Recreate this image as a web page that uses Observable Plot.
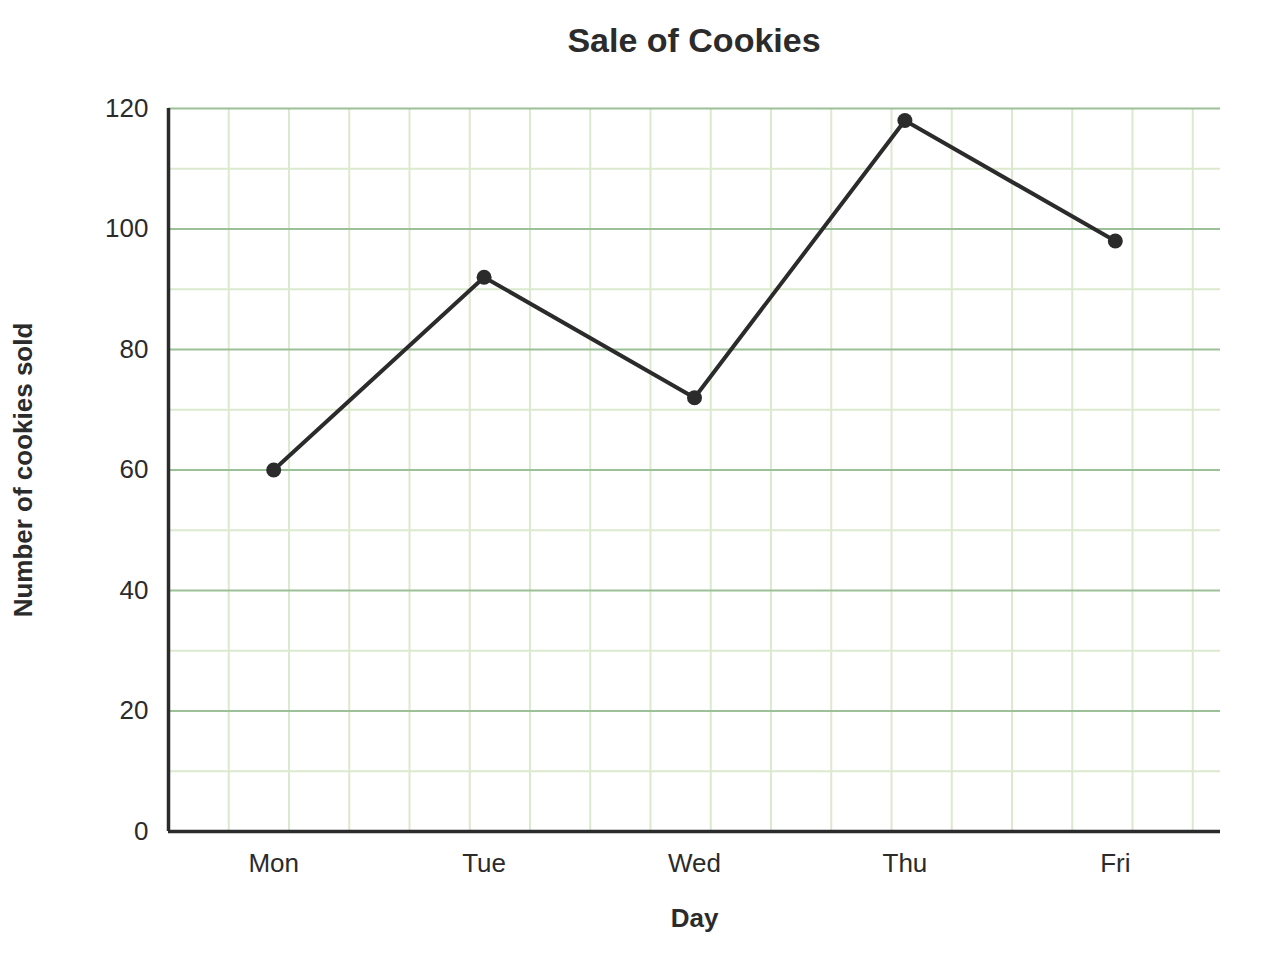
<!DOCTYPE html>
<html>
<head>
<meta charset="utf-8">
<script src="https://cdn.jsdelivr.net/npm/d3@7"></script>
<script src="https://cdn.jsdelivr.net/npm/@observablehq/plot@0.6"></script>
<style>
  html, body { margin: 0; padding: 0; background: #fff; }
  #title {
    width: 1280px; height: 80px; line-height: 80px; box-sizing: border-box;
    padding-left: 108px; text-align: center;
    font-family: "Liberation Sans", Arial, sans-serif; font-weight: bold;
    font-size: 34px; color: #2b2b2b;
  }
</style>
</head>
<body>
<div id="title">Sale of Cookies</div>
<div id="chart"></div>
<script>
const days = ["Mon", "Tue", "Wed", "Thu", "Fri"];
const cookies = [60, 92, 72, 118, 98];
const yMajorTicks = [0, 20, 40, 60, 80, 100, 120];
const yMinorTicks = [10, 30, 50, 70, 90, 110];
const xLabel = "Day";
const yLabel = "Number of cookies sold";

const data = days.map((d, i) => ({ day: d, pos: i + 0.5, value: cookies[i] }));

const W = 1280, H = 900;
const mTop = 28, mBottom = 149, mLeft = 168, mRight = 60;
const plotW = W - mLeft - mRight, plotH = H - mTop - mBottom;
const yMax = 120, gridUnit = 10;
// square grid cells: vertical grid spacing equals 10 y-units in pixels
const cellPx = plotH / (yMax / gridUnit);
const xStep = cellPx / (plotW / days.length);
const vGrid = d3.range(1, Math.floor(days.length / xStep) + 1).map(k => k * xStep).filter(v => v < days.length);

const ink = "#2b2b2b";
const minor = "#dbe9cf";
const major = "#9cc098";

const chart = Plot.plot({
  width: W, height: H,
  marginTop: mTop, marginBottom: mBottom, marginLeft: mLeft, marginRight: mRight,
  style: { fontFamily: "'Liberation Sans', Arial, sans-serif", fontSize: "26px", color: ink, background: "#fff" },
  x: { type: "linear", domain: [0, days.length] },
  y: { domain: [0, yMax] },
  marks: [
    Plot.ruleX(vGrid, { stroke: minor, strokeWidth: 2 }),
    Plot.ruleY(yMinorTicks, { stroke: minor, strokeWidth: 2 }),
    Plot.ruleY(yMajorTicks.filter(d => d > 0), { stroke: major, strokeWidth: 2 }),
    Plot.axisY(yMajorTicks, { tickSize: 0, tickPadding: 20, label: null, fill: ink }),
    Plot.axisX(data.map(d => d.pos), { tickSize: 0, tickPadding: 22, label: null, fill: ink,
      tickFormat: v => days[Math.floor(v)] }),
    Plot.text([xLabel], { frameAnchor: "bottom", dy: 95, fontWeight: "bold", fill: ink }),
    Plot.text([yLabel], { frameAnchor: "left", textAnchor: "middle", rotate: -90, dx: -145, fontWeight: "bold", fill: ink }),
    Plot.ruleX([0], { stroke: ink, strokeWidth: 3.5 }),
    Plot.ruleY([0], { stroke: ink, strokeWidth: 3.5 }),
    Plot.line(data, { x: "pos", y: "value", stroke: ink, strokeWidth: 4 }),
    Plot.dot(data, { x: "pos", y: "value", r: 7.5, fill: ink, stroke: "none" })
  ]
});
document.getElementById("chart").appendChild(chart);
</script>
</body>
</html>
